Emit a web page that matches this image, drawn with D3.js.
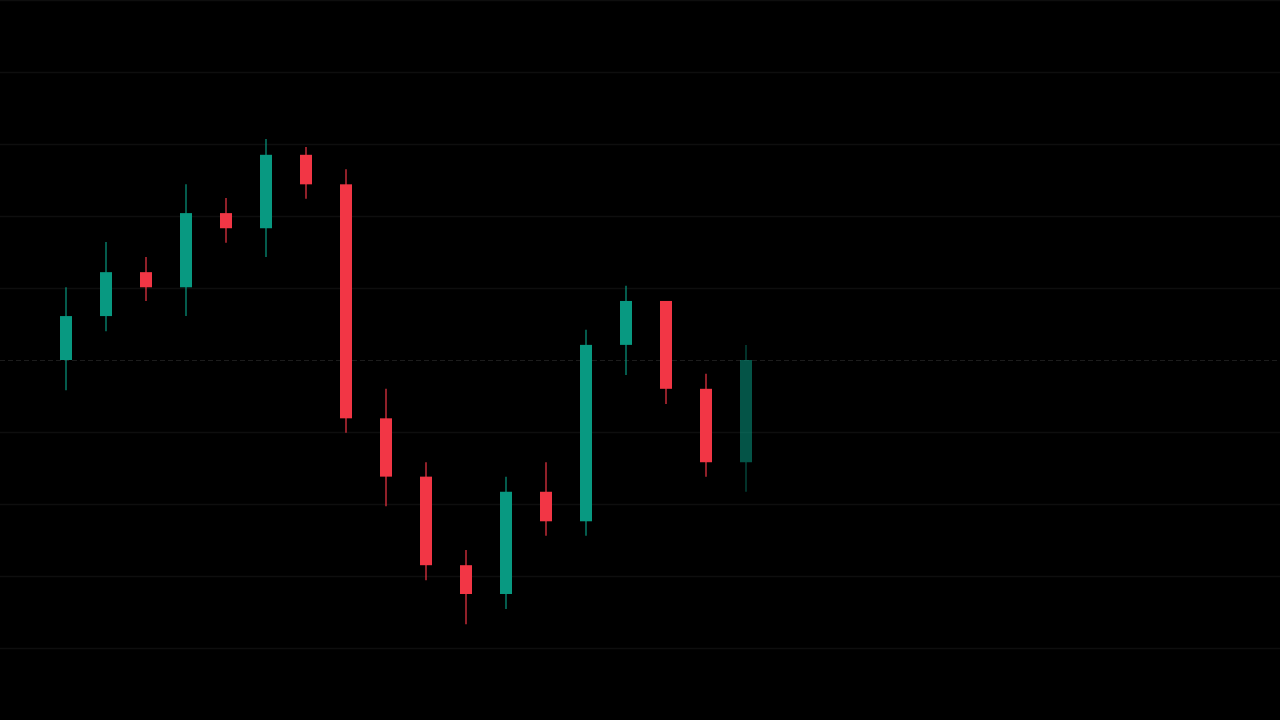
<!DOCTYPE html>
<html>
<head>
<meta charset="utf-8">
<script src="https://cdn.jsdelivr.net/npm/d3@7"></script>
<style>
  html, body { margin: 0; padding: 0; background: #000; overflow: hidden; }
</style>
</head>
<body>
<div class="container"></div>
<script>
// bar data
const bars = ["1", "2", "3", "4", "5", "6", "7", "8", "9", "10", "11", "12", "13", "14", "15", "16", "17", "18"];
const opens = [100.0, 106.1, 112.2, 110.1, 120.4, 118.3, 128.5, 124.4, 91.9, 83.8, 71.5, 67.5, 81.7, 77.6, 102.1, 108.2, 96.0, 85.8];
const highs = [110.1, 116.4, 114.3, 124.4, 122.5, 130.7, 129.6, 126.5, 96.0, 85.8, 73.6, 83.8, 85.8, 104.2, 110.3, 108.2, 98.1, 102.1];
const lows = [95.8, 104.0, 108.2, 106.1, 116.3, 114.3, 122.4, 89.9, 79.7, 69.4, 63.3, 65.4, 75.6, 75.6, 97.9, 93.9, 83.8, 81.7];
const closes = [106.1, 112.2, 110.1, 120.4, 118.3, 128.5, 124.4, 91.9, 83.8, 71.5, 67.5, 81.7, 77.6, 102.1, 108.2, 96.0, 85.8, 100.0];
const gridTicks = [150, 140, 130, 120, 110, 90, 80, 70, 60];

const width = 1280, height = 720;
const up = "#089981", down = "#f23645";

const data = bars.map((b, i) => ({
  bar: b, open: opens[i], high: highs[i], low: lows[i], close: closes[i],
  live: i === bars.length - 1
}));

const svg = d3.select(".container")
  .append("svg")
  .attr("width", width)
  .attr("height", height)
  .style("display", "block")
  .style("background", "#000");

const x = d3.scaleBand().domain(bars).range([46, 766]);
const y = d3.scaleLinear().domain([50, 150]).range([height, 0]);

// horizontal grid
svg.append("g")
  .selectAll("line")
  .data(gridTicks)
  .enter()
  .append("line")
  .attr("x1", 0)
  .attr("x2", width)
  .attr("y1", (d) => Math.round(y(d)) + 0.5)
  .attr("y2", (d) => Math.round(y(d)) + 0.5)
  .attr("stroke", "#0e0e0e")
  .attr("stroke-width", 1.5);

// last price line
const last = data[data.length - 1];
svg.append("line")
  .attr("x1", 0)
  .attr("x2", width)
  .attr("y1", Math.round(y(last.close)) + 0.5)
  .attr("y2", Math.round(y(last.close)) + 0.5)
  .attr("stroke", "#1c1c1c")
  .attr("stroke-width", 1)
  .attr("stroke-dasharray", "5,3");

const bw = 12;
const g = svg.append("g");

const candle = g.selectAll("g.candle")
  .data(data)
  .enter()
  .append("g")
  .attr("class", "candle")
  .attr("opacity", (d) => (d.live ? 0.55 : 1));

candle.append("line")
  .attr("x1", (d) => x(d.bar) + x.bandwidth() / 2)
  .attr("x2", (d) => x(d.bar) + x.bandwidth() / 2)
  .attr("y1", (d) => y(d.high))
  .attr("y2", (d) => y(d.low))
  .attr("stroke", (d) => (d.close >= d.open ? up : down))
  .attr("stroke-width", 1.2);

candle.append("rect")
  .attr("x", (d) => x(d.bar) + x.bandwidth() / 2 - bw / 2)
  .attr("y", (d) => y(Math.max(d.open, d.close)))
  .attr("width", bw)
  .attr("height", (d) => Math.abs(y(d.open) - y(d.close)))
  .attr("fill", (d) => (d.close >= d.open ? up : down));
</script>
</body>
</html>
